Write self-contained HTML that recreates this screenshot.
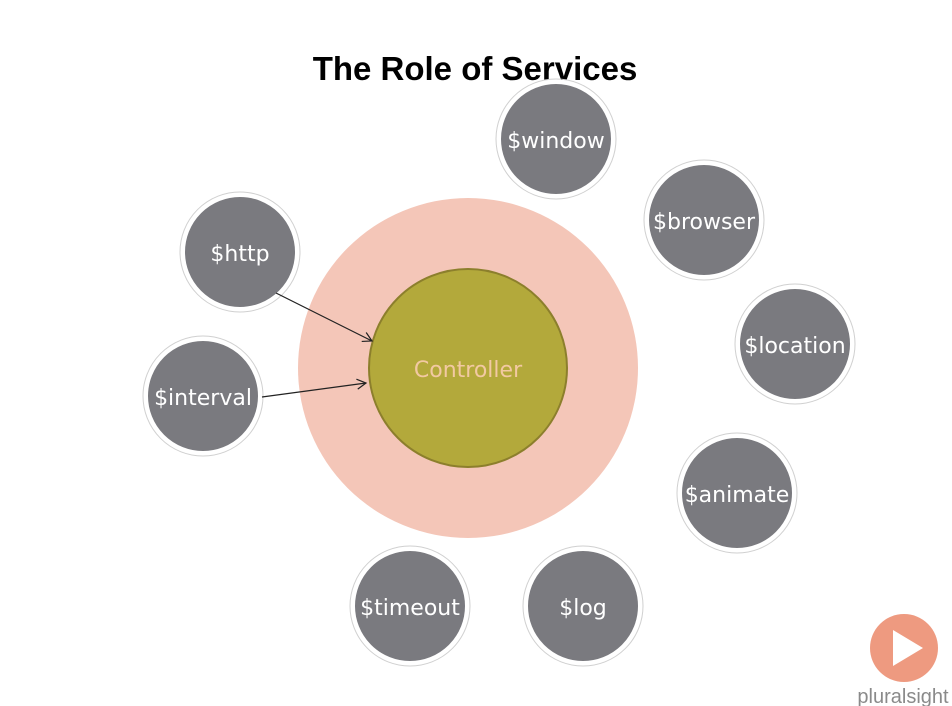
<!DOCTYPE html>
<html><head><style>
html,body{margin:0;padding:0;background:#fff;width:952px;height:706px;overflow:hidden}
svg text{font-family:"DejaVu Sans","Liberation Sans",sans-serif}
</style></head><body>
<svg width="952" height="706" viewBox="0 0 952 706" xmlns="http://www.w3.org/2000/svg">
<defs>
<marker id="ar" markerWidth="12" markerHeight="12" refX="10" refY="6" orient="auto" markerUnits="userSpaceOnUse">
<path d="M1,1 L10,6 L1,11" fill="none" stroke="#222" stroke-width="1.2"/>
</marker>
</defs>
<text x="475" y="80" text-anchor="middle" font-size="33" font-weight="bold" fill="#000" style="font-family:'Liberation Sans',sans-serif">The Role of Services</text>
<circle cx="468" cy="368" r="170" fill="#f4c6b8"/>
<circle cx="468" cy="368" r="99" fill="#b3a93b" stroke="#8c7f2c" stroke-width="2"/>
<text x="468" y="377" text-anchor="middle" font-size="22" fill="#f2c9a2">Controller</text>
<g fill="#7a7a7f" stroke="#fff" stroke-width="4">
<circle cx="556" cy="139" r="57"/>
<circle cx="704" cy="220" r="57"/>
<circle cx="240" cy="252" r="57"/>
<circle cx="795" cy="344" r="57"/>
<circle cx="203" cy="396" r="57"/>
<circle cx="737" cy="493" r="57"/>
<circle cx="410" cy="606" r="57"/>
<circle cx="583" cy="606" r="57"/>
</g>
<g fill="none" stroke="#d0d0d0" stroke-width="1">
<circle cx="556" cy="139" r="60"/>
<circle cx="704" cy="220" r="60"/>
<circle cx="240" cy="252" r="60"/>
<circle cx="795" cy="344" r="60"/>
<circle cx="203" cy="396" r="60"/>
<circle cx="737" cy="493" r="60"/>
<circle cx="410" cy="606" r="60"/>
<circle cx="583" cy="606" r="60"/>
</g>
<g fill="#fff" font-size="22" text-anchor="middle">
<text x="556" y="148">$window</text>
<text x="704" y="229">$browser</text>
<text x="240" y="261">$http</text>
<text x="795" y="353">$location</text>
<text x="203" y="405">$interval</text>
<text x="737" y="502">$animate</text>
<text x="410" y="615">$timeout</text>
<text x="583" y="615">$log</text>
</g>
<line x1="276" y1="293" x2="372" y2="341" stroke="#222" stroke-width="1.2" marker-end="url(#ar)"/>
<line x1="262" y1="397" x2="366" y2="383" stroke="#222" stroke-width="1.2" marker-end="url(#ar)"/>
<circle cx="904" cy="648" r="34" fill="#ee9a80"/>
<path d="M893,630 L893,666 L923,648 Z" fill="#fff"/>
<text x="903" y="703" text-anchor="middle" font-size="20" fill="#8a8a8a" style="font-family:'Liberation Sans',sans-serif">pluralsight</text>
</svg>
</body></html>
